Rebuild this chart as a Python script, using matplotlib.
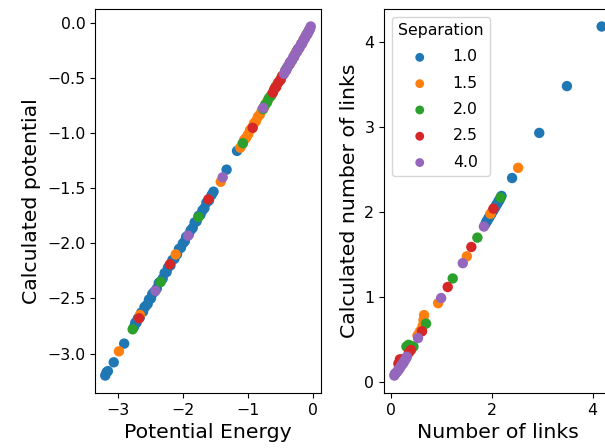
import matplotlib
matplotlib.use('Agg')
import matplotlib.pyplot as plt

# separations (legend entries)
separations = ['1.0', '1.5', '2.0', '2.5', '4.0']
colors = ['#1f77b4', '#ff7f0e', '#2ca02c', '#d62728', '#9467bd']

# left panel: potential energy vs calculated potential
pe_10 = [-3.19, -3.17, -3.15, -3.06, -2.90, -2.75, -2.73, -2.71, -2.69, -2.66, -2.64, -2.61, -2.59,
         -2.57, -2.54, -2.52, -2.49, -2.47, -2.44, -2.40, -2.37, -2.35, -2.31, -2.28, -2.25, -2.23,
         -2.19, -2.16, -2.13, -2.09, -2.06, -2.03, -2.00, -1.97, -1.95, -1.91, -1.88, -1.85, -1.82,
         -1.79, -1.76, -1.73, -1.70, -1.67, -1.64, -1.60, -1.56, -1.53, -1.33, -1.17]
calc_10 = [-3.20, -3.17, -3.16, -3.08, -2.91, -2.76, -2.72, -2.72, -2.68, -2.67, -2.63, -2.62, -2.58,
           -2.57, -2.55, -2.51, -2.50, -2.46, -2.44, -2.41, -2.36, -2.35, -2.32, -2.27, -2.26, -2.22,
           -2.20, -2.15, -2.14, -2.10, -2.05, -2.04, -2.00, -1.98, -1.94, -1.92, -1.88, -1.86, -1.81,
           -1.80, -1.75, -1.74, -1.70, -1.68, -1.63, -1.61, -1.56, -1.53, -1.33, -1.16]
pe_15 = [-2.98, -2.66, -2.11, -1.42, -1.12, -1.09, -1.06, -1.03, -1.00, -0.97, -0.94, -0.91, -0.88,
         -0.85, -0.82, -0.79, -0.75, -0.70, -0.64, -0.57, -0.50, -0.43, -0.36, -0.29, -0.22, -0.15, -0.09]
calc_15 = [-2.98, -2.65, -2.10, -1.44, -1.13, -1.10, -1.06, -1.04, -1.01, -0.97, -0.95, -0.91, -0.89,
           -0.85, -0.83, -0.79, -0.76, -0.70, -0.65, -0.57, -0.51, -0.43, -0.37, -0.29, -0.23, -0.15, -0.09]
pe_20 = [-2.77, -2.34, -1.76, -1.08, -0.77, -0.74, -0.71, -0.68, -0.65, -0.58, -0.50, -0.41, -0.33,
         -0.25, -0.17, -0.10, -0.06]
calc_20 = [-2.78, -2.35, -1.76, -1.09, -0.78, -0.74, -0.72, -0.68, -0.66, -0.58, -0.51, -0.41, -0.34,
           -0.25, -0.18, -0.10, -0.06]
pe_25 = [-2.67, -2.20, -1.61, -0.93, -0.62, -0.60, -0.57, -0.54, -0.51, -0.48, -0.42, -0.36, -0.30,
         -0.24, -0.18, -0.12, -0.07]
calc_25 = [-2.68, -2.19, -1.60, -0.95, -0.63, -0.60, -0.58, -0.54, -0.52, -0.48, -0.43, -0.36, -0.31,
           -0.24, -0.19, -0.12, -0.07]
pe_40 = [-2.42, -1.92, -1.39, -0.77, -0.45, -0.43, -0.41, -0.39, -0.37, -0.35, -0.33, -0.31, -0.29,
         -0.27, -0.25, -0.23, -0.21, -0.19, -0.17, -0.15, -0.13, -0.11, -0.09, -0.07, -0.05, -0.04]
calc_40 = [-2.43, -1.93, -1.40, -0.77, -0.46, -0.43, -0.42, -0.39, -0.38, -0.35, -0.34, -0.31, -0.30,
           -0.27, -0.26, -0.23, -0.22, -0.19, -0.18, -0.15, -0.14, -0.11, -0.10, -0.07, -0.05, -0.03]

# right panel: number of links vs calculated number of links
links_10 = [1.87, 1.89, 1.91, 1.93, 1.95, 1.97, 1.99, 2.01, 2.03, 2.05, 2.07, 2.09, 2.11, 2.13, 2.15,
            2.17, 2.19, 2.40, 2.94, 3.49, 4.18]
clinks_10 = [1.86, 1.89, 1.90, 1.93, 1.94, 1.97, 1.98, 2.01, 2.02, 2.05, 2.06, 2.09, 2.10, 2.13, 2.14,
             2.17, 2.19, 2.40, 2.93, 3.48, 4.18]
links_15 = [0.52, 0.57, 0.62, 0.64, 0.65, 0.93, 1.50, 1.97, 2.52]
clinks_15 = [0.55, 0.60, 0.66, 0.73, 0.79, 0.93, 1.48, 1.98, 2.52]
links_20 = [0.22, 0.30, 0.34, 0.38, 0.44, 0.69, 1.22, 1.71, 2.17]
clinks_20 = [0.27, 0.42, 0.44, 0.43, 0.42, 0.69, 1.22, 1.70, 2.17]
links_25 = [0.14, 0.17, 0.22, 0.27, 0.35, 0.39, 0.61, 1.12, 1.59, 2.03]
clinks_25 = [0.22, 0.27, 0.26, 0.28, 0.35, 0.38, 0.60, 1.12, 1.59, 2.04]
links_40 = [0.06, 0.07, 0.09, 0.11, 0.13, 0.15, 0.17, 0.19, 0.21, 0.23, 0.25, 0.27, 0.29, 0.31,
            0.53, 0.99, 1.42, 1.84]
clinks_40 = [0.08, 0.10, 0.11, 0.12, 0.14, 0.15, 0.17, 0.19, 0.21, 0.22, 0.24, 0.26, 0.28, 0.30,
             0.52, 0.99, 1.40, 1.83]

left_x = [pe_10, pe_15, pe_20, pe_25, pe_40]
left_y = [calc_10, calc_15, calc_20, calc_25, calc_40]
right_x = [links_10, links_15, links_20, links_25, links_40]
right_y = [clinks_10, clinks_15, clinks_20, clinks_25, clinks_40]

fig = plt.figure(figsize=(6.05, 4.48), dpi=100)
ax1 = fig.add_axes([0.157, 0.1228, 0.3736, 0.857])
ax2 = fig.add_axes([0.6347, 0.1228, 0.3769, 0.857])

for i in range(len(separations)):
    ax1.scatter(left_x[i], left_y[i], s=56, color=colors[i], edgecolors='none')
    ax2.scatter(right_x[i], right_y[i], s=56, color=colors[i], edgecolors='none',
                label=separations[i])

ax1.set_xlabel('Potential Energy', fontsize=14.7)
ax1.set_ylabel('Calculated potential', fontsize=14.7)
ax2.set_xlabel('Number of links', fontsize=14.7)
ax2.set_ylabel('Calculated number of links', fontsize=14.7)
for ax in (ax1, ax2):
    ax.tick_params(labelsize=11.3)

ax2.legend(title='Separation', loc='upper left', fontsize=11.3, title_fontsize=11.3,
           labelspacing=0.72, handletextpad=1.1, markerscale=0.85)

plt.savefig('out.png', dpi=100)
